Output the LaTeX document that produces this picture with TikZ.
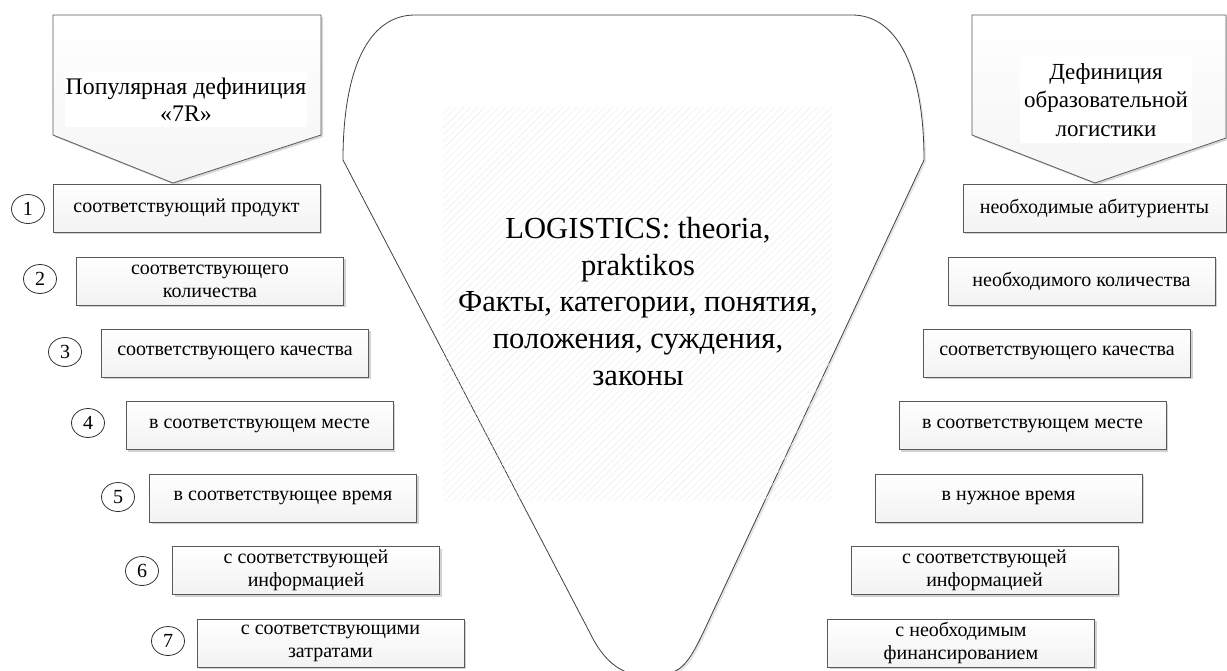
\documentclass[tikz,border=0pt]{standalone}
\usepackage{fontspec}
\setmainfont{Liberation Serif}
\usetikzlibrary{shadows,patterns.meta,shapes.geometric}
\begin{document}
\begin{tikzpicture}[x=1pt,y=-1pt,
  item/.style={draw=black!65, line width=0.8pt, top color=white, bottom color=black!5,
    minimum width=267pt, minimum height=48pt, inner sep=0pt, align=center,
    font=\fontsize{20}{23}\selectfont,
    drop shadow={shadow xshift=2pt, shadow yshift=-2pt, fill=black!35, opacity=0.5}},
  num/.style={ellipse, draw=black!80, line width=0.8pt, fill=white, minimum width=33pt,
    minimum height=29pt, inner sep=0pt, font=\fontsize{20}{22}\selectfont},
  penta/.style={draw=black!65, line width=0.8pt, top color=white, bottom color=black!4,
    drop shadow={shadow xshift=2pt, shadow yshift=-2pt, fill=black!30, opacity=0.5}},
  ptext/.style={fill=white, inner sep=0pt, align=center},
  funnel/.style={draw=black!75, line width=0.8pt, fill=white,
    drop shadow={shadow xshift=2pt, shadow yshift=-2pt, fill=black!20, opacity=0.5}},
  hatch/.style={pattern={Lines[angle=45, distance=5pt, line width=0.4pt]}, pattern color=black!8},
  ctext/.style={align=center, font=\fontsize{30.6}{36.7}\selectfont}
]
\useasboundingbox (0,0) rectangle (1227,670);

% central funnel
\path[funnel] (415,15) -- (852,15) .. controls (898,15) and (924,70) .. (924,160)
  -- (703,633) .. controls (690,660) and (682,672) .. (665,674) -- (635,674)
  .. controls (618,672) and (602,658) .. (590,633) -- (343,160)
  .. controls (343,70) and (368,15) .. (415,15) -- cycle;
\fill[hatch] (443,107) rectangle (832,500);
\node[ctext] (core) at (638,301.5) {LOGISTICS: theoria,\\praktikos\\Факты, категории, понятия,\\положения, суждения,\\законы};

% left pentagon
\path[penta] (53,15) -- (321,15) -- (321,135) -- (173,183) -- (53,135) -- cycle;
\node[ptext, minimum width=242pt, minimum height=55pt, font=\fontsize{23.8}{27.5}\selectfont] (lhead) at (186,99.5) {Популярная дефиниция\\«7R»};

% right pentagon
\path[penta] (972,15) -- (1226,15) -- (1226,138) -- (1095,183) -- (972,135) -- cycle;
\node[ptext, minimum width=172pt, minimum height=86pt, font=\fontsize{23}{28.5}\selectfont] (rhead) at (1106,100) {Дефиниция\\образовательной\\логистики};

% left boxes
\node[item] (l1) at (186.5,208) {соответствующий продукт};
\node[item] (l2) at (210,281) {соответствующего\\количества};
\node[item] (l3) at (235,353) {соответствующего качества};
\node[item] (l4) at (259.5,425.5) {в соответствующем месте};
\node[item] (l5) at (283,498) {в соответствующее время};
\node[item] (l6) at (306,570.5) {с соответствующей\\информацией};
\node[item] (l7) at (330.5,643) {с соответствующими\\затратами};

\node[num] (n1) at (28,209) {1};
\node[num] (n2) at (40,279) {2};
\node[num] (n3) at (65,352) {3};
\node[num] (n4) at (88,423) {4};
\node[num] (n5) at (118,497) {5};
\node[num] (n6) at (142,571) {6};
\node[num] (n7) at (168,641) {7};

% right boxes
\node[item, minimum width=263pt] (r1) at (1094.5,208) {необходимые абитуриенты};
\node[item] (r2) at (1081.5,281) {необходимого количества};
\node[item] (r3) at (1057,353) {соответствующего качества};
\node[item] (r4) at (1032.5,425.5) {в соответствующем месте};
\node[item] (r5) at (1008.5,498) {в нужное время};
\node[item] (r6) at (984.5,570.5) {с соответствующей\\информацией};
\node[item] (r7) at (961,643) {с необходимым\\финансированием};
\end{tikzpicture}
\end{document}
